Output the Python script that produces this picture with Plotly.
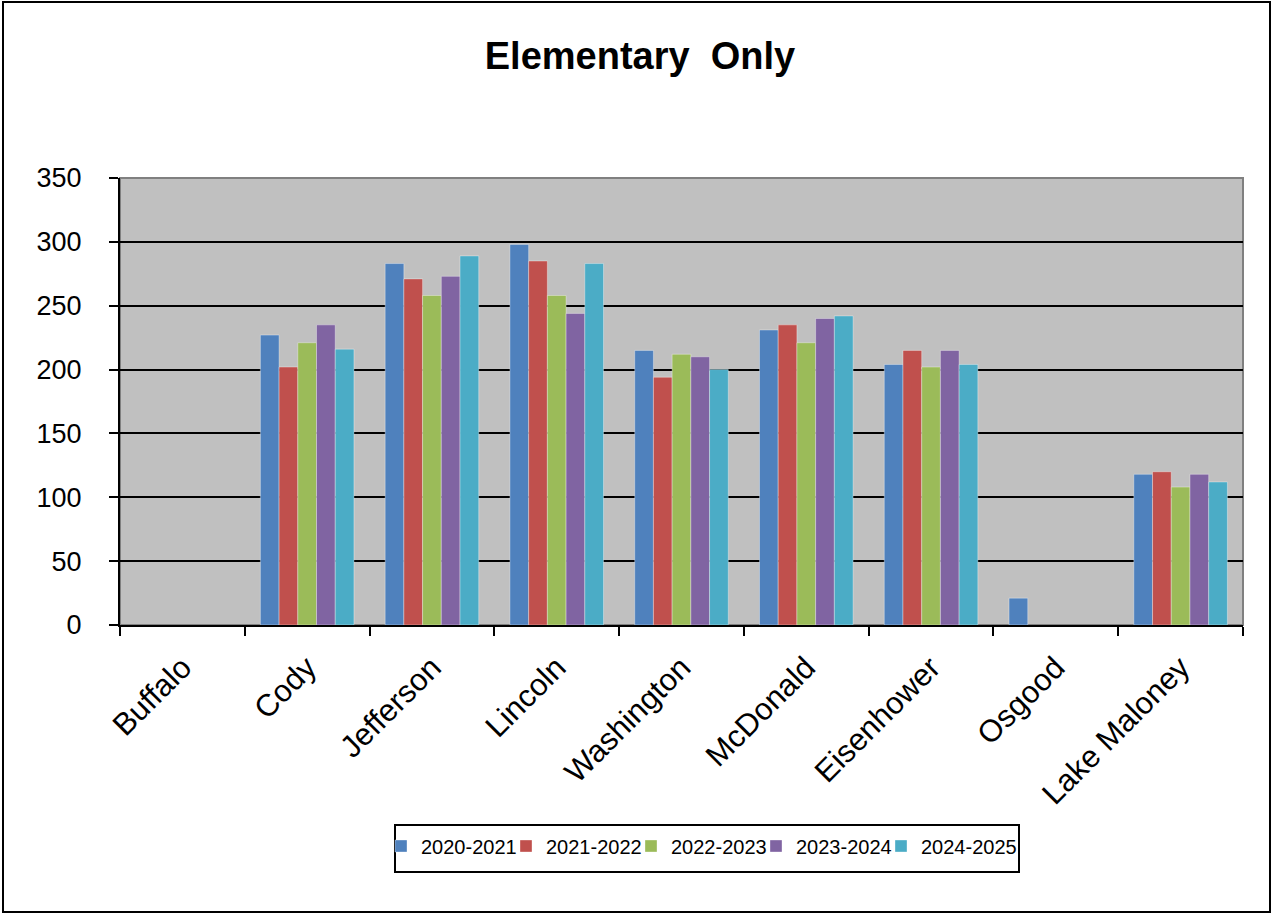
import plotly.graph_objects as go

schools = ["Buffalo", "Cody", "Jefferson", "Lincoln", "Washington", "McDonald",
           "Eisenhower", "Osgood", "Lake Maloney"]
y2020_2021 = [None, 227, 283, 298, 215, 231, 204, 21, 118]
y2021_2022 = [None, 202, 271, 285, 194, 235, 215, None, 120]
y2022_2023 = [None, 221, 258, 258, 212, 221, 202, None, 108]
y2023_2024 = [None, 235, 273, 244, 210, 240, 215, None, 118]
y2024_2025 = [None, 216, 289, 283, 200, 242, 204, None, 112]
series_names = ["2020-2021", "2021-2022", "2022-2023", "2023-2024", "2024-2025"]
series_values = [y2020_2021, y2021_2022, y2022_2023, y2023_2024, y2024_2025]
colors = ["#4F81BD", "#C0504D", "#9BBB59", "#8064A2", "#4BACC6"]

W, H = 1274, 916
L, R, T, B = 120, 31, 178, 291
pw, ph = W - L - R, H - T - B


def px_x(p):
    return (p - L) / pw


def px_y(p):
    return (T + ph - p) / ph


font = "Liberation Sans, Arial, sans-serif"
legend_ids = ["legend", "legend2", "legend3", "legend4", "legend5"]

fig = go.Figure()
for i, (name, vals, c) in enumerate(zip(series_names, series_values, colors)):
    fig.add_trace(go.Bar(x=schools, y=vals, name=name, marker_color=c,
                         marker_line=dict(color="rgba(255,255,255,0.35)", width=1),
                         legend=legend_ids[i]))

legend_layout = {}
for i, lid in enumerate(legend_ids):
    legend_layout[lid] = dict(
        orientation="h", x=px_x(381 + 125 * i), xanchor="left",
        y=px_y(846), yanchor="middle",
        borderwidth=0, bgcolor="rgba(0,0,0,0)",
        font=dict(size=20, family=font), itemwidth=30,
    )

fig.update_layout(
    width=W, height=H,
    margin=dict(l=L, r=R, t=T, b=B),
    paper_bgcolor="white", plot_bgcolor="#C0C0C0",
    barmode="group", bargap=0.25, bargroupgap=0,
    font=dict(family=font, color="black"),
    title=dict(text="<b>Elementary&nbsp; Only</b>", x=px_x(640), xref="paper",
               xanchor="center", y=1 - 56 / H, yanchor="middle",
               font=dict(size=38, family=font)),
    showlegend=True,
    xaxis=dict(tickangle=-45, tickfont=dict(size=31), ticks="outside",
               tickson="boundaries", ticklen=9, tickwidth=2, tickcolor="black",
               showline=True, linecolor="black", linewidth=2, mirror=False,
               showgrid=False, ticklabelstandoff=10),
    yaxis=dict(range=[0, 350], dtick=50, tickfont=dict(size=27), ticks="outside",
               ticklen=9, tickwidth=2, tickcolor="black",
               showline=True, linecolor="black", linewidth=2,
               showgrid=True, gridcolor="black", gridwidth=2, zeroline=False,
               ticklabelstandoff=22),
    shapes=[
        dict(type="rect", xref="paper", yref="paper", x0=0, x1=1, y0=0, y1=1,
             line=dict(color="#808080", width=2), fillcolor="rgba(0,0,0,0)", layer="below"),
        # outer chart border
        dict(type="rect", xref="paper", yref="paper",
             x0=px_x(3), x1=px_x(1270), y0=px_y(912), y1=px_y(2),
             line=dict(color="black", width=2), fillcolor="rgba(0,0,0,0)"),
        # legend frame
        dict(type="rect", xref="paper", yref="paper",
             x0=px_x(395), x1=px_x(1019), y0=px_y(872), y1=px_y(825),
             line=dict(color="black", width=2), fillcolor="white", layer="below"),
    ],
    **legend_layout,
)

fig.write_html("out.html")
